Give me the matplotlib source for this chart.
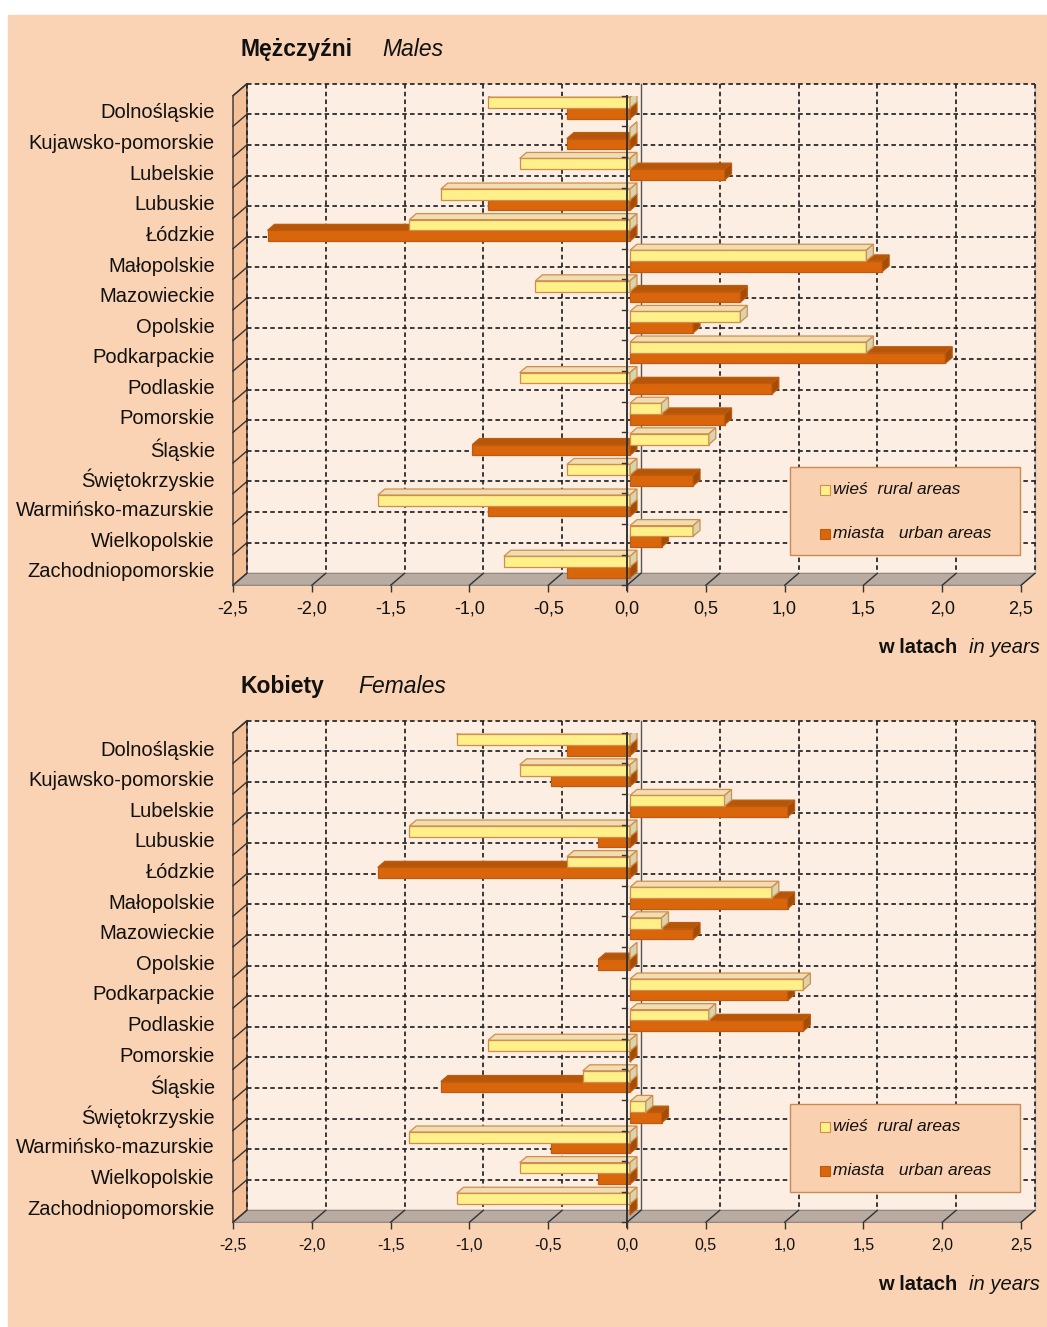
import matplotlib.pyplot as plt
from matplotlib.patches import Rectangle, Polygon

plt.rcParams['font.family'] = ['Liberation Sans', 'DejaVu Sans']

# województwa
regiony = ["Dolnośląskie", "Kujawsko-pomorskie", "Lubelskie", "Lubuskie", "Łódzkie",
           "Małopolskie", "Mazowieckie", "Opolskie", "Podkarpackie", "Podlaskie",
           "Pomorskie", "Śląskie", "Świętokrzyskie", "Warmińsko-mazurskie",
           "Wielkopolskie", "Zachodniopomorskie"]

# mężczyźni (w latach)
m_wies = [-0.9, 0.0, -0.7, -1.2, -1.4, 1.5, -0.6, 0.7, 1.5, -0.7, 0.2, 0.5, -0.4, -1.6, 0.4, -0.8]
m_miasta = [-0.4, -0.4, 0.6, -0.9, -2.3, 1.6, 0.7, 0.4, 2.0, 0.9, 0.6, -1.0, 0.4, -0.9, 0.2, -0.4]

# kobiety (w latach)
k_wies = [-1.1, -0.7, 0.6, -1.4, -0.4, 0.9, 0.2, 0.0, 1.1, 0.5, -0.9, -0.3, 0.1, -1.4, -0.7, -1.1]
k_miasta = [-0.4, -0.5, 1.0, -0.2, -1.6, 1.0, 0.4, -0.2, 1.0, 1.1, 0.0, -1.2, 0.2, -0.5, -0.2, 0.0]

ticks = [-2.5, -2.0, -1.5, -1.0, -0.5, 0.0, 0.5, 1.0, 1.5, 2.0, 2.5]
tick_labels = ["-2,5", "-2,0", "-1,5", "-1,0", "-0,5", "0,0", "0,5", "1,0", "1,5", "2,0", "2,5"]

W, H = 1047, 1327
peach = "#F9D3B4"
wall = "#FDEEE3"
side = "#F5C097"
floor_c = "#B8ABA2"
wies_kol = ("#FFF08A", "#F1DDB2", "#D9D3AE", "#CF8E4E")
miasta_kol = ("#DA660C", "#B65708", "#A34C06", "#BF5A10")

DXW, DYW = 14 / 158, 12 / 30.6   # glebokosc scian
DXB, DYB = 7 / 158, 6 / 30.6     # glebokosc slupkow
BX = 3 / 158
ROW = 30.6

fig = plt.figure(figsize=(W / 100, H / 100), dpi=100)
fig.patches.append(Rectangle((8 / W, 0), 1, 1 - 15 / H, transform=fig.transFigure,
                             color=peach, zorder=-10))


def fx(px):
    return px / W


def fy(py):
    return 1 - py / H


def slupek(ax, y0, y1, v, kol, z):
    front, top, end, edge = kol
    x0, x1 = min(0, v) + BX, max(0, v) + BX
    ax.barh((y0 + y1) / 2, v, height=y1 - y0, left=BX, color=front, edgecolor=edge,
            lw=0.9, zorder=z)
    ax.add_patch(Polygon([(x0, y0), (x0 + DXB, y0 - DYB), (x1 + DXB, y0 - DYB), (x1, y0)],
                         closed=True, fc=top, ec=edge, lw=0.9, zorder=z))
    ax.add_patch(Polygon([(x1, y0), (x1 + DXB, y0 - DYB), (x1 + DXB, y1 - DYB), (x1, y1)],
                         closed=True, fc=end, ec=edge, lw=0.9, zorder=z))


def panel(top_px, t_pl, t_en, en_x, wies, miasta, tick_fs):
    n = len(regiony)
    bottom_px = top_px + n * ROW
    ax = fig.add_axes([fx(233), fy(bottom_px), fx(788), (bottom_px - top_px) / H])
    ax.set_xlim(-2.5, 2.5)
    ax.set_ylim(n - 0.5, -0.5)
    ax.patch.set_visible(False)
    for s in ax.spines.values():
        s.set_visible(False)

    # sciany i podloga
    ax.add_patch(Rectangle((-2.5 + DXW, -0.5 - DYW), 5, n, fc=wall, ec='none',
                           zorder=0, clip_on=False))
    ax.plot([2.5 + DXW] * 2, [-0.5 - DYW, n - 0.5 - DYW], color='#bbbbbb', lw=1,
            zorder=1, clip_on=False)
    ax.add_patch(Polygon([(-2.5, -0.5), (-2.5 + DXW, -0.5 - DYW), (-2.5 + DXW, n - 0.5 - DYW),
                          (-2.5, n - 0.5)], closed=True, fc=side, ec='#333333', lw=1,
                         zorder=1, clip_on=False))
    for k in range(n + 1):
        ax.plot([-2.5, -2.5 + DXW], [k - 0.5, k - 0.5 - DYW], color='#333333', lw=1,
                zorder=2, clip_on=False)
    for k in range(n):
        ax.plot([-2.5 + DXW, 2.5 + DXW], [k - 0.5 - DYW] * 2, color='#2a2a2a', lw=1.3,
                dashes=(2.5, 1.8), zorder=2, clip_on=False)
    for t in ticks:
        if t == 0:
            ax.plot([DXW] * 2, [-0.5 - DYW, n - 0.5 - DYW], color='#555555', lw=1,
                    zorder=2, clip_on=False)
        else:
            ax.plot([t + DXW] * 2, [-0.5 - DYW, n - 0.5 - DYW], color='#2a2a2a', lw=1.3,
                    dashes=(2.5, 1.8), zorder=2, clip_on=False)
    ax.add_patch(Polygon([(-2.5, n - 0.5), (-2.5 + DXW, n - 0.5 - DYW), (2.5 + DXW, n - 0.5 - DYW),
                          (2.5, n - 0.5)], closed=True, fc=floor_c, ec='#8a7f78', lw=0.8,
                         zorder=3, clip_on=False))
    for t in ticks:
        ax.plot([t, t + DXW], [n - 0.5, n - 0.5 - DYW], color='#333333', lw=1,
                zorder=3, clip_on=False)

    # slupki
    for i in range(n):
        slupek(ax, i - 0.1, i + 0.25, miasta[i], miasta_kol, 4)
        slupek(ax, i - 0.45, i - 0.1, wies[i], wies_kol, 5)

    # os zerowa
    ax.plot([0, 0], [-0.5, n - 0.5 + 0.15], color='#333333', lw=1.4, zorder=6, clip_on=False)
    for k in range(n + 1):
        ax.plot([-5 / 158, 0], [k - 0.5] * 2, color='#333333', lw=1, zorder=6, clip_on=False)

    ax.set_yticks(range(n), regiony)
    ax.tick_params(axis='y', length=0, pad=13, labelsize=14.5, labelcolor='#111111')
    ax.set_xticks(ticks, tick_labels)
    ax.tick_params(axis='x', length=5, width=1, pad=6, labelsize=tick_fs,
                   color='#333333', labelcolor='#111111')

    # tytul
    fig.text(fx(240), fy(top_px - 46), t_pl, fontsize=16.5, fontweight='bold',
             va='center', color='#111111')
    fig.text(fx(en_x), fy(top_px - 46), t_en, fontsize=16.5, style='italic',
             va='center', color='#111111')
    fig.text(fx(957), fy(top_px + 552), "w latach", fontsize=14.5, fontweight='bold',
             ha='right', va='center', color='#111111')
    fig.text(fx(1040), fy(top_px + 552), "in years", fontsize=14.5, style='italic',
             ha='right', va='center', color='#111111')

    # legenda
    lt, lb = top_px + 371, top_px + 459
    fig.patches.append(Rectangle((fx(790), fy(lb)), fx(230), (lb - lt) / H,
                                 transform=fig.transFigure, fc='#F9D1B0', ec='#C98B55',
                                 lw=1, zorder=7))
    for yy, kol, lab in [(lt + 23, wies_kol, "wieś  rural areas"),
                         (lt + 67, miasta_kol, "miasta   urban areas")]:
        fig.patches.append(Rectangle((fx(820), fy(yy + 5)), fx(10), 10 / H,
                                     transform=fig.transFigure, fc=kol[0], ec=kol[3],
                                     lw=0.8, zorder=8))
        fig.text(fx(833), fy(yy), lab, fontsize=12.5, style='italic', va='center',
                 color='#111111', zorder=8)


panel(95.7, "Mężczyźni", "Males", 382, m_wies, m_miasta, 13)
panel(732.7, "Kobiety", "Females", 358, k_wies, k_miasta, 11.5)

fig.savefig("out.png", dpi=100, facecolor='white')
